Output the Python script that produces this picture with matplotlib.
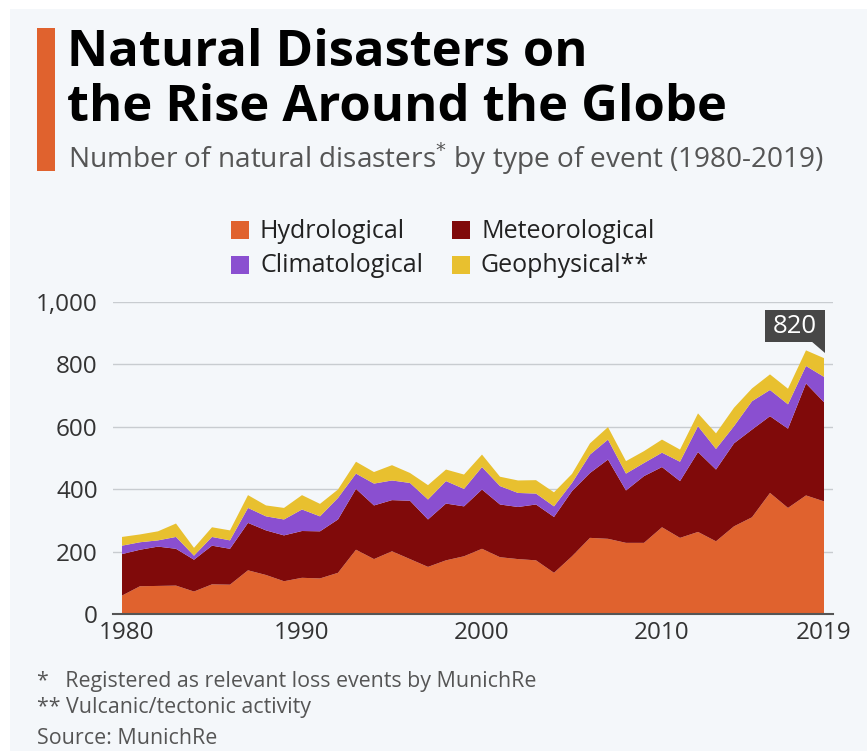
import matplotlib.pyplot as plt
from matplotlib.patches import Rectangle, Polygon
from matplotlib.transforms import ScaledTranslation
import numpy as np

years = list(range(1980, 2020))
hydrological = [59, 89, 90, 91, 72, 95, 94, 140, 125, 105,
                116, 114, 132, 206, 176, 201, 176, 151, 172, 185,
                209, 182, 176, 172, 132, 185, 244, 241, 228, 228,
                278, 244, 263, 233, 281, 310, 388, 340, 380, 361]
meteorological = [133, 117, 126, 118, 102, 124, 115, 152, 143, 147,
                  150, 151, 171, 195, 172, 164, 187, 152, 182, 160,
                  190, 169, 167, 179, 179, 209, 208, 254, 168, 214,
                  193, 182, 256, 230, 266, 281, 246, 254, 359, 318]
climatological = [27, 24, 20, 38, 13, 28, 27, 48, 45, 51,
                  69, 48, 69, 49, 70, 63, 57, 64, 72, 56,
                  72, 59, 45, 35, 34, 26, 59, 64, 54, 42,
                  46, 62, 83, 66, 55, 91, 84, 78, 56, 81]
geophysical = [28, 25, 29, 43, 25, 31, 32, 41, 35, 37,
               46, 40, 27, 38, 37, 49, 32, 46, 37, 46,
               40, 30, 40, 43, 45, 29, 36, 40, 40, 38,
               42, 39, 41, 50, 59, 41, 50, 50, 50, 60]
labels = ["Hydrological", "Meteorological", "Climatological", "Geophysical**"]
colors = ["#e0622e", "#800a0a", "#8a4fd0", "#e8c02f"]
xticks = [1980, 1990, 2000, 2010, 2019]
yticks = [0, 200, 400, 600, 800, 1000]

W, H = 867, 751
bg = "#f4f7fa"
plt.rcParams['font.family'] = ['Open Sans', 'DejaVu Sans']

fig = plt.figure(figsize=(W / 100, H / 100), dpi=100, facecolor="white")
fig.patches.append(Rectangle((10 / W, 0), 1, 1 - 9 / H, transform=fig.transFigure,
                             facecolor=bg, edgecolor="none", zorder=-10))

# orange accent bar + titles
fig.patches.append(Rectangle((37 / W, 1 - 171 / H), 18 / W, 143 / H,
                             transform=fig.transFigure, facecolor="#e0622e",
                             edgecolor="none"))
fig.text(67 / W, 1 - 66 / H, "Natural Disasters on", fontsize=36.5, fontweight="bold",
         color="black", va="baseline", ha="left")
fig.text(67 / W, 1 - 121 / H, "the Rise Around the Globe", fontsize=36.5, fontweight="bold",
         color="black", va="baseline", ha="left")
fig.text(68 / W, 1 - 168 / H, r"Number of natural disasters$^{*}$ by type of event (1980-2019)",
         fontsize=20.2, color="#555555", va="baseline", ha="left")

# legend (manual)
leg_pos = [(231, 230), (452, 230), (231, 265), (452, 265)]
for (lx, ly), lab, col in zip(leg_pos, labels, colors):
    fig.patches.append(Rectangle((lx / W, 1 - (ly + 9) / H), 18 / W, 18 / H,
                                 transform=fig.transFigure, facecolor=col, edgecolor="none"))
    fig.text((lx + 29) / W, 1 - (ly + 1) / H, lab, fontsize=18, color="#222222",
             va="center", ha="left")

ax = fig.add_axes([113 / W, 1 - 614 / H, 720 / W, 312 / H])
ax.set_facecolor(bg)
ax.stackplot(years, hydrological, meteorological, climatological, geophysical,
             colors=colors, linewidth=0, zorder=2)
ax.set_xlim(1979.5, 2019.5)
ax.set_ylim(0, 1000)
ax.set_yticks(yticks)
ax.set_yticklabels([f"{v:,}" for v in yticks])
ax.set_xticks(xticks)
ax.grid(axis="y", color="#c8ccd0", linewidth=1, zorder=0)
for s in ["top", "right", "left"]:
    ax.spines[s].set_visible(False)
ax.spines["bottom"].set_color("#555555")
ax.spines["bottom"].set_linewidth(1.5)
ax.spines["bottom"].set_zorder(3)
ax.tick_params(axis="both", length=0, labelsize=17.5, labelcolor="#333333")
ax.tick_params(axis="y", pad=11)
ax.tick_params(axis="x", pad=5)
first = ax.get_xticklabels()[0]
first.set_transform(first.get_transform() + ScaledTranslation(5 / 100, 0, fig.dpi_scale_trans))

# 820 callout
total = (np.array(hydrological) + np.array(meteorological)
         + np.array(climatological) + np.array(geophysical))
last = total[-1]
px, py = ax.transData.transform((years[-1], last))
fig.patches.append(Rectangle(((px - 59) / W, (py + 16) / H), 60 / W, 32 / H,
                             transform=fig.transFigure, facecolor="#474747",
                             edgecolor="none", zorder=5))
fig.patches.append(Polygon([((px - 13) / W, (py + 17) / H), ((px + 1) / W, (py + 17) / H),
                            ((px + 1) / W, (py + 5) / H)], closed=True, transform=fig.transFigure,
                           facecolor="#474747", edgecolor="none", zorder=5))
fig.text((px - 29) / W, (py + 32) / H, f"{last}", fontsize=18.5, color="white",
         ha="center", va="center", zorder=6)

# footer
fig.text(37 / W, 1 - 682 / H, "*   Registered as relevant loss events by MunichRe", fontsize=15.4,
         color="#555555", va="center", ha="left")
fig.text(37 / W, 1 - 708 / H, "** Vulcanic/tectonic activity", fontsize=15.4,
         color="#555555", va="center", ha="left")
fig.text(37 / W, 1 - 738 / H, "Source: MunichRe", fontsize=15.4,
         color="#555555", va="center", ha="left")

fig.savefig("out.png", dpi=100, facecolor=fig.get_facecolor())
